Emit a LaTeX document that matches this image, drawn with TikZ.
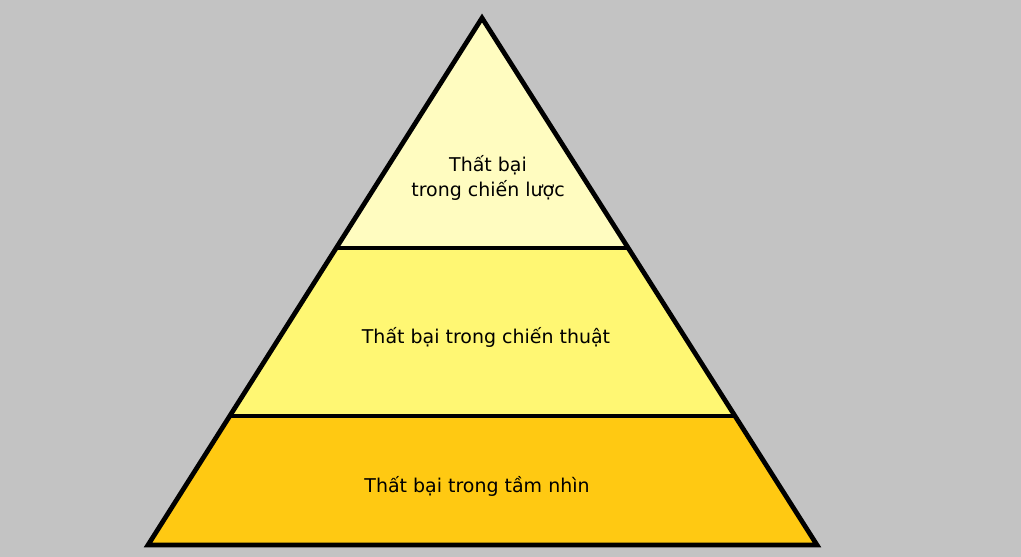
\documentclass[tikz,border=0pt]{standalone}
\usepackage{fontspec}
\setmainfont{DejaVu Sans}
\usepackage{tikz}
\usetikzlibrary{calc,positioning}
\definecolor{bggray}{HTML}{C3C3C3}
\definecolor{toplayer}{HTML}{FFFCC0}
\definecolor{midlayer}{HTML}{FFF773}
\definecolor{baselayer}{HTML}{FFC912}
\tikzset{
        outline/.style = {draw=black, line width=2.7pt, line join=miter},
        divider/.style = {draw=black, line width=2.7pt},
        layertext/.style = {align=center, text=black,
            font=\fontsize{10.8}{14.2}\selectfont},
    }

\begin{document}
\begin{tikzpicture}[x=0.02cm,y=-0.02cm]
            \fill[bggray] (0,0) rectangle (1021,557);
            \useasboundingbox (0,0) rectangle (1021,557);

            \coordinate (apex) at (482,18);
            \coordinate (bl) at (148,545);
            \coordinate (br) at (817,545);
            \coordinate (tl) at ($(apex)!0.4364!(bl)$);
            \coordinate (tr) at ($(apex)!0.4364!(br)$);
            \coordinate (ml) at ($(apex)!0.7552!(bl)$);
            \coordinate (mr) at ($(apex)!0.7552!(br)$);

            \fill[toplayer] (apex) -- (tl) -- (tr) -- cycle;
            \fill[midlayer] (tl) -- (ml) -- (mr) -- (tr) -- cycle;
            \fill[baselayer] (ml) -- (bl) -- (br) -- (mr) -- cycle;

            \draw[outline] (apex) -- (bl) -- (br) -- cycle;
            \draw[divider] (tl) -- (tr);
            \draw[divider] (ml) -- (mr);

            \node[layertext] (strategy) at (488,178) {Thất bại\\trong chiến lược};
            \node[layertext] (tactics) at (486,337) {Thất bại trong chiến thuật};
            \node[layertext] (vision) at (477,486) {Thất bại trong tầm nhìn};
\end{tikzpicture}
\end{document}
